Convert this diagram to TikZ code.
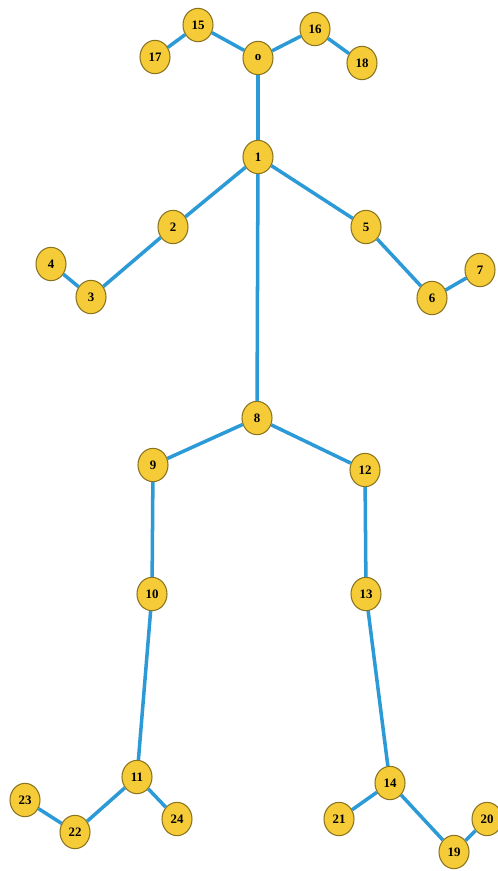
\documentclass[tikz,border=0pt]{standalone}
\usepackage{fontspec}
\setmainfont{Liberation Serif}
\usepackage{xcolor}
\definecolor{cJoint}{HTML}{F6CB38}
\definecolor{cRim}{HTML}{8A7420}
\definecolor{cBone}{HTML}{2C9AD6}
\usepackage{tikz}
\usetikzlibrary{shapes.geometric}
\tikzset{
  node-joint/.style={draw=cRim,line width=0.9pt,fill=cJoint,ellipse,inner sep=0pt,
    minimum width=0.9cm,minimum height=1.0cm,font=\fontsize{11}{12}\selectfont\bfseries},
  edge-bone/.style={draw=cBone,line width=3pt},
}

\begin{document}
\begin{tikzpicture}[x=0.03cm,y=-0.03cm]
  \useasboundingbox (0,0) rectangle (497,871);
  % head
  \node[node-joint] (n0) at (258,58) {o};
  \node[node-joint] (n15) at (198,25) {15};
  \node[node-joint] (n17) at (155,57) {17};
  \node[node-joint] (n16) at (315,29) {16};
  \node[node-joint] (n18) at (362,63) {18};
  % arms
  \node[node-joint] (n1) at (258,157) {1};
  \node[node-joint] (n2) at (173,227) {2};
  \node[node-joint] (n3) at (91,297) {3};
  \node[node-joint] (n4) at (51,264) {4};
  \node[node-joint] (n5) at (366,227) {5};
  \node[node-joint] (n6) at (432,298) {6};
  \node[node-joint] (n7) at (480,270) {7};
  % legs
  \node[node-joint] (n8) at (257,418) {8};
  \node[node-joint] (n9) at (153,465) {9};
  \node[node-joint] (n10) at (152,594) {10};
  \node[node-joint] (n11) at (137,777) {11};
  \node[node-joint] (n22) at (75,832) {22};
  \node[node-joint] (n23) at (25,800) {23};
  \node[node-joint] (n24) at (177,819) {24};
  \node[node-joint] (n12) at (365,470) {12};
  \node[node-joint] (n13) at (366,594) {13};
  \node[node-joint] (n14) at (390,783) {14};
  \node[node-joint] (n21) at (339,819) {21};
  \node[node-joint] (n19) at (454,852) {19};
  \node[node-joint] (n20) at (487,819) {20};
  \foreach \a/\b in {17/15,15/0,0/16,16/18,0/1,1/2,2/3,3/4,1/5,5/6,6/7,1/8,
    8/9,9/10,10/11,11/22,22/23,11/24,8/12,12/13,13/14,14/21,14/19,19/20}
    \draw[edge-bone] (n\a) -- (n\b);
\end{tikzpicture}
\end{document}
